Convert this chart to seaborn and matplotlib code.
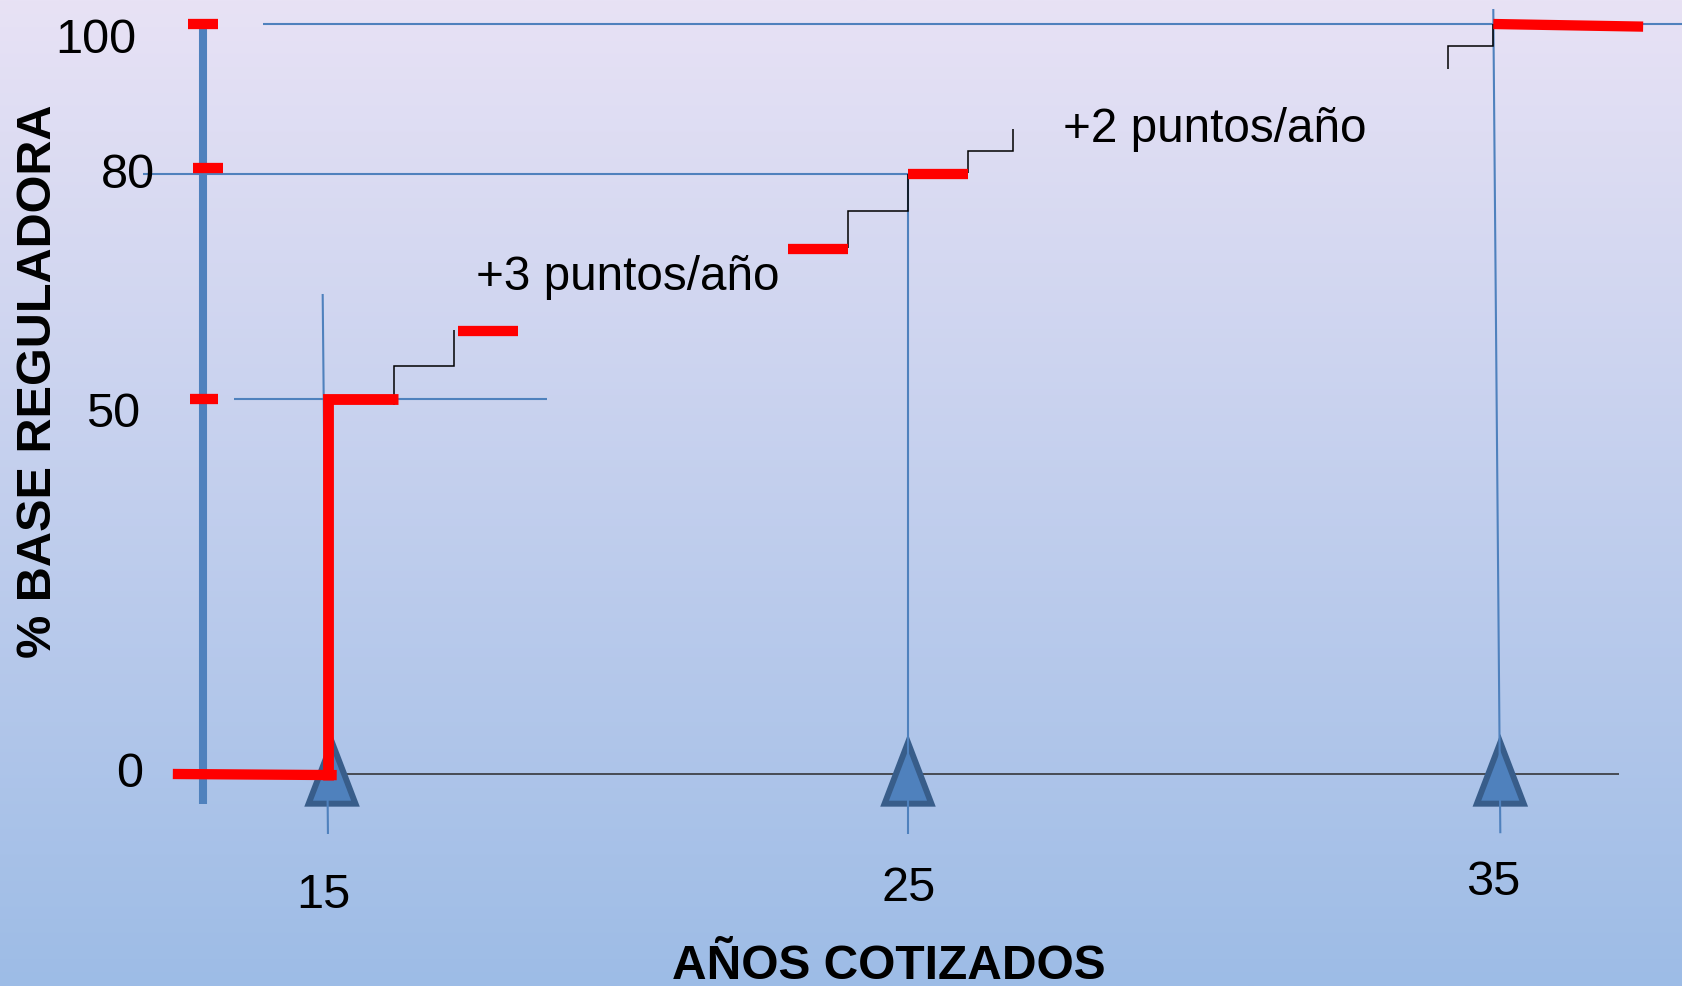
import numpy as np
import matplotlib
matplotlib.use("Agg")
import matplotlib.pyplot as plt
import seaborn as sns
from matplotlib.patches import Polygon

sns.set_style("white")
plt.rcParams["font.family"] = ["Liberation Sans", "DejaVu Sans"]
plt.rcParams["text.color"] = "black"

# ---------------- data ----------------
year_ticks = [15, 25, 35]
year_labels = ["15", "25", "35"]
pct_ticks = [100, 80, 50, 0]
pct_labels = ["100", "80", "50", "0"]
x_title = "AÑOS COTIZADOS"
y_title = "% BASE REGULADORA"
notes = ["+3 puntos/año", "+2 puntos/año"]

# main red path (years, % base reguladora)
red_base_x = [12.44, 15.24]
red_base_y = [0.0, -0.15]
red_path_x = [15.09, 15.09, 16.28]
red_path_y = [-0.8, 50.0, 50.0]

# red level segments
seg_x0 = [17.31, 22.95, 25.00, 35.00]
seg_x1 = [18.33, 23.97, 26.02, 37.56]
seg_y0 = [59.0, 70.0, 80.0, 100.0]
seg_y1 = [59.0, 70.0, 80.0, 99.65]

# black stairs
stair_x0 = [16.22, 23.97, 26.02, 34.22]
stair_x1 = [17.25, 25.00, 26.80, 35.00]
stair_y0 = [49.2, 70.1, 80.1, 94.0]
stair_ym = [54.4, 75.0, 83.0, 97.1]
stair_y1 = [59.2, 80.0, 86.0, 100.0]

# thin blue reference lines
hline_level = [100, 80, 50]
hline_x0 = [13.98, 11.93, 13.49]
hline_x1 = [38.30, 25.00, 18.84]
vline_top = [64.0, 80.0, 102.0]
vline_bottom = [-8.0, -8.0, -7.9]
vline_shift_top = [0.0, 0.0, 0.0]
vline_shift_bottom = [0.09, 0.0, 0.12]

# red ticks on the vertical axis
axis_tick_level = [100, 80.8, 50]
axis_tick_x0 = [12.70, 12.79, 12.73]
axis_tick_x1 = [13.22, 13.30, 13.21]

# triangles
tri_x = [15.16, 25.0, 35.12]

# ---------------- layout ----------------
XMIN, XMAX = 9.487, 38.224
YMIN, YMAX = -28.27, 103.2
AXIS_X = 12.95
BLUE = "#4F81BD"
TRI_EDGE = "#385D8A"

fig = plt.figure(figsize=(16.82, 9.86), dpi=100)
ax = fig.add_axes([0, 0, 1, 1])
ax.set_xlim(XMIN, XMAX)
ax.set_ylim(YMIN, YMAX)
ax.axis("off")

# background gradient
top = np.array([232, 226, 245]) / 255.0
bot = np.array([157, 188, 230]) / 255.0
t = np.linspace(0, 1, 400)[:, None, None]
grad = top[None, None, :] * (1 - t) + bot[None, None, :] * t
ax.imshow(grad, extent=[XMIN, XMAX, YMIN, YMAX], aspect="auto", zorder=0,
          interpolation="bilinear")

# thin blue horizontal reference lines
for lvl, a, b in zip(hline_level, hline_x0, hline_x1):
    sns.lineplot(x=[a, b], y=[lvl, lvl], sort=False, estimator=None,
                 color=BLUE, linewidth=1.5, ax=ax, zorder=2)

# baseline (dark)
sns.lineplot(x=[15.35, 37.14], y=[0, 0], sort=False, estimator=None,
             color="#2b2b2b", linewidth=1.1, ax=ax, zorder=2)

# triangles
for cx in tri_x:
    poly = Polygon([[cx - 0.40, -3.96], [cx + 0.40, -3.96], [cx, 4.2]],
                   closed=True, facecolor=BLUE, edgecolor=TRI_EDGE,
                   linewidth=4.3, joinstyle="miter", zorder=3)
    ax.add_patch(poly)

# thin blue vertical lines
for yr, tp, bt, st, sb in zip(year_ticks, vline_top, vline_bottom,
                              vline_shift_top, vline_shift_bottom):
    sns.lineplot(x=[yr + st, yr + sb], y=[tp, bt], sort=False, estimator=None,
                 color=BLUE, linewidth=1.5, ax=ax, zorder=4)

# thick blue vertical axis
sns.lineplot(x=[AXIS_X, AXIS_X], y=[100.7, -4.0], sort=False, estimator=None,
             color=BLUE, linewidth=5.8, ax=ax, zorder=4)

# black stairs
for x0, x1, y0, ym, y1 in zip(stair_x0, stair_x1, stair_y0, stair_ym, stair_y1):
    sns.lineplot(x=[x0, x0, x1, x1], y=[y0, ym, ym, y1], sort=False,
                 estimator=None, color="black", linewidth=1.1, ax=ax, zorder=5)

# red ticks on axis
for lvl, a, b in zip(axis_tick_level, axis_tick_x0, axis_tick_x1):
    sns.lineplot(x=[a, b], y=[lvl, lvl], sort=False, estimator=None,
                 color="red", linewidth=7.4, ax=ax, zorder=6)
# red main path
sns.lineplot(x=red_base_x, y=red_base_y, sort=False, estimator=None,
             color="red", linewidth=7.4, ax=ax, zorder=6)
sns.lineplot(x=red_path_x, y=red_path_y, sort=False, estimator=None,
             color="red", linewidth=7.8, ax=ax, zorder=6)
# red segments
for a, b, c, d in zip(seg_x0, seg_x1, seg_y0, seg_y1):
    sns.lineplot(x=[a, b], y=[c, d], sort=False, estimator=None,
                 color="red", linewidth=7.4, ax=ax, zorder=6)

for ln in ax.get_lines():
    ln.set_solid_capstyle("butt")
    ln.set_solid_joinstyle("miter")

# tick labels (y)
ylab_x = [11.118, 11.673, 11.42, 11.70]
ylab_base = [96.13, 78.13, 46.31, -1.73]
for lab, xx, yy in zip(pct_labels, ylab_x, ylab_base):
    ax.text(xx, yy, lab, ha="center", va="baseline", fontsize=35,
            color="black", zorder=7)

# tick labels (x)
xlab_x = [15.02, 25.01, 35.0]
xlab_base = [-17.87, -16.9, -16.1]
for lab, xx, yy in zip(year_labels, xlab_x, xlab_base):
    ax.text(xx, yy, lab, ha="center", va="baseline", fontsize=35,
            color="black", zorder=7)

# annotations
ax.text(17.62, 64.53, notes[0], ha="left", va="baseline", fontsize=34.3,
        color="black", zorder=7)
ax.text(27.65, 84.31, notes[1], ha="left", va="baseline", fontsize=34.3,
        color="black", zorder=7)

# axis titles
ax.text(24.68, -27.3, x_title, ha="center", va="baseline", fontsize=34.5,
        fontweight="bold", color="black", zorder=7)
ax.text(10.15, 52.3, y_title, ha="center", va="center", rotation=90,
        fontsize=35, fontweight="bold", color="black", zorder=7)

fig.savefig("out.png", dpi=100)
